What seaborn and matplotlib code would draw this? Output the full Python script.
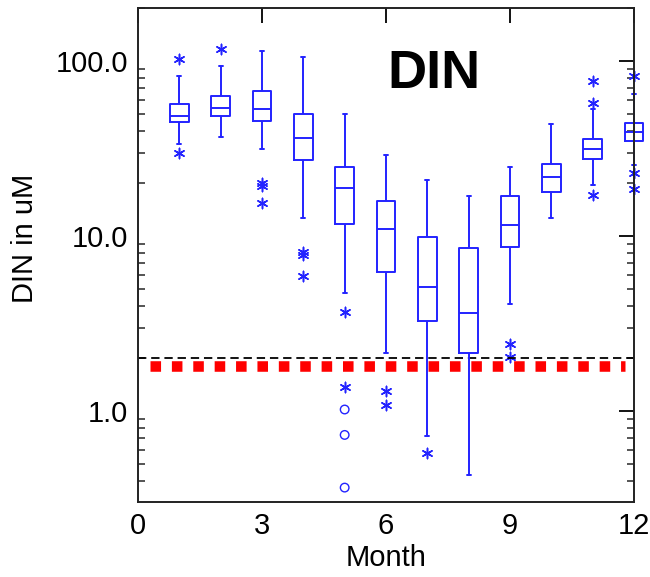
import numpy as np
import pandas as pd
import seaborn as sns
import matplotlib
matplotlib.use("Agg")
import matplotlib.pyplot as plt
from matplotlib.ticker import LogLocator, NullFormatter

# ---- data ----
months = [1, 2, 3, 4, 5, 6, 7, 8, 9, 10, 11, 12]
whisker_low = [33.6, 36.9, 31.4, 12.6, 4.72, 2.14, 0.72, 0.433, 4.1, 12.7, 19.6, 25.6]
q1 = [44.6, 48.3, 45.2, 27.2, 11.7, 6.2, 3.28, 2.14, 8.65, 17.8, 27.7, 34.9]
median = [48.7, 53.9, 53.4, 36.2, 18.8, 11.0, 5.13, 3.65, 11.5, 21.8, 31.5, 39.3]
q3 = [57.0, 63.4, 67.4, 50.0, 24.8, 15.9, 9.87, 8.58, 17.0, 25.9, 36.0, 44.4]
whisker_high = [82.5, 94.0, 114.5, 106.0, 50.0, 28.9, 20.9, 16.9, 24.8, 43.6, 53.0, 64.5]

star_month = [1, 1, 2, 3, 3, 3, 4, 4, 4, 5, 5, 6, 6, 7, 9, 9, 11, 11, 11, 12, 12, 12]
star_value = [102.6, 29.7, 116.7, 20.0, 19.4, 15.5, 8.1, 7.8, 5.9, 3.69, 1.37,
              1.30, 1.08, 0.578, 2.41, 2.04, 76.9, 57.5, 17.2, 81.8, 23.0, 18.6]
circle_month = [5, 5, 5]
circle_value = [1.02, 0.73, 0.365]

threshold_dashed = 2.0
threshold_red = 1.8

x_ticks = [0, 3, 6, 9, 12]
y_ticks = [1, 10, 100]
y_ticklabels = ["1.0", "10.0", "100.0"]

# ---- build long-form table for the boxplot ----
rows = []
for m, a, b, c, d, e in zip(months, whisker_low, q1, median, q3, whisker_high):
    for v in (a, b, c, d, e):
        rows.append({"Month": m, "DIN": v})
df = pd.DataFrame(rows)
stars = pd.DataFrame({"Month": star_month, "DIN": star_value})
circles = pd.DataFrame({"Month": circle_month, "DIN": circle_value})

sns.set_theme(style="white")
plt.rcParams["font.family"] = ["Liberation Sans", "DejaVu Sans"]
plt.rcParams["lines.scale_dashes"] = False

BLUE = "#2323ff"

fig = plt.figure(figsize=(6.5, 5.77), dpi=100)
ax = fig.add_axes([138 / 650, 1 - 502 / 577, 496 / 650, 494 / 577])

sns.boxplot(data=df, x="Month", y="DIN", native_scale=True, log_scale=(False, True),
            whis=(0, 100), width=0.45, fill=False, color=BLUE, linecolor=BLUE,
            linewidth=1.4, showfliers=False, ax=ax)

sns.scatterplot(data=stars, x="Month", y="DIN", marker=(6, 2, 0), color=BLUE,
                s=55, linewidth=1.1, ax=ax)
sns.scatterplot(data=circles, x="Month", y="DIN", marker="o", facecolor="none",
                edgecolor=BLUE, s=38, linewidth=1.0, ax=ax)

ax.axhline(threshold_dashed, color="black", lw=1.3, dashes=(6, 3.5), zorder=1)
red, = ax.plot([0.29, 11.78], [threshold_red, threshold_red], color="#ff0000", lw=7.6,
               solid_capstyle="butt", dash_capstyle="butt", zorder=1)
red.set_dashes((7.6, 7.8))

# shorten caps
for ln in ax.lines:
    xd = np.asarray(ln.get_xdata(), dtype=float)
    yd = np.asarray(ln.get_ydata(), dtype=float)
    if len(xd) == 2 and yd[0] == yd[1] and abs((xd[1] - xd[0]) - 0.225) < 0.01:
        cx = xd.mean()
        ln.set_xdata([cx - 0.05, cx + 0.05])

for art in list(ax.lines) + list(ax.patches) + list(ax.collections):
    art.set_clip_on(False)
red.set_clip_on(True)

ax.set_xlim(0, 12)
ax.set_ylim(0.302, 201)
ax.set_xticks(x_ticks)
ax.set_xticklabels([str(t) for t in x_ticks])
ax.set_yticks(y_ticks)
ax.set_yticklabels(y_ticklabels)
ax.yaxis.set_minor_locator(LogLocator(base=10, subs=np.arange(2, 10)))
ax.yaxis.set_minor_formatter(NullFormatter())

ax.tick_params(axis="both", which="major", direction="in", length=10.5, width=1.3,
               top=True, right=True, labelsize=21, colors="black")
ax.tick_params(axis="x", which="major", pad=7)
ax.tick_params(axis="y", which="major", pad=7)
ax.tick_params(axis="y", which="minor", direction="in", length=5, width=1.1,
               left=True, right=True)
ax.tick_params(axis="x", which="minor", bottom=False, top=False)

for sp in ax.spines.values():
    sp.set_color("#222222")
    sp.set_linewidth(1.4)

ax.set_xlabel("Month", fontsize=21, color="black")
ax.set_ylabel("DIN in uM", fontsize=21, color="black")
ax.xaxis.set_label_coords(0.5, -0.086)
ax.yaxis.set_label_coords(-0.2, 0.534)

ax.text(0.597, 0.838, "DIN", transform=ax.transAxes, ha="center", va="baseline",
        fontsize=39, fontweight="bold", color="black")

fig.savefig("out.png", dpi=100)
